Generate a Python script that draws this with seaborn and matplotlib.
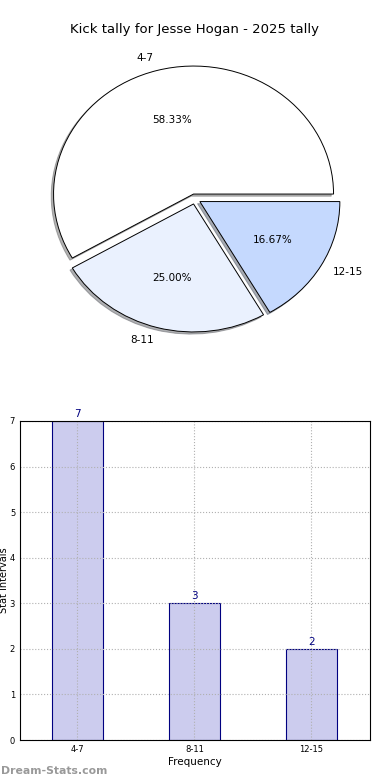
import matplotlib
matplotlib.use("Agg")
import matplotlib.pyplot as plt
import seaborn as sns
import pandas as pd

categories = ["4-7", "8-11", "12-15"]
counts = [7, 3, 2]
pie_colors = ["#ffffff", "#eaf1fe", "#c5d9fe"]
title = "Kick tally for Jesse Hogan - 2025 tally"
yticks = [0, 1, 2, 3, 4, 5, 6, 7]

sns.set_theme(style="white")
plt.rcParams['font.family'] = ['DejaVu Sans']
plt.rcParams['text.color'] = 'black'
plt.rcParams['axes.labelcolor'] = 'black'

fig = plt.figure(figsize=(3.9, 7.8), dpi=100)

# Pie
axp = fig.add_axes([20/390, (780-359)/780, 350/390, 320/780])
wedges, texts, autotexts = axp.pie(
    counts, labels=categories, colors=pie_colors, autopct="%.2f%%",
    startangle=0, counterclock=True, explode=[0.04]*3,
    shadow={"ox": -0.012, "oy": -0.012, "shade": 0.6},
    labeldistance=1.1, pctdistance=0.6,
    wedgeprops=dict(edgecolor="black", linewidth=0.7),
    textprops=dict(fontsize=7.5, color="black"))
axp.set_aspect("auto")
axp.set_xlim(-1.25, 1.25)
axp.set_ylim(-1.25, 1.25)
axp.axis("off")
fig.text(0.5, 1 - 30/780, title, ha="center", va="center", fontsize=9.5, color="black")

# Bar
axb = fig.add_axes([20/390, 40/780, 350/390, 319/780])
df = pd.DataFrame({"cat": categories, "val": counts})
sns.barplot(data=df, x="cat", y="val", ax=axb, color="#ccccee", width=0.44,
            edgecolor="#000080", linewidth=0.8, saturation=1)
axb.set_xlim(-0.49, 2.5)
axb.set_ylim(0, 7)
axb.set_yticks(yticks)
axb.grid(True, linestyle=":", color="#b0b0b0", linewidth=0.8)
axb.set_axisbelow(False)
for s in axb.spines.values():
    s.set_color("black")
    s.set_linewidth(0.8)
    s.set_zorder(5)
axb.tick_params(axis="both", labelsize=6, length=2, direction="in", colors="black")
axb.set_xlabel("Frequency", fontsize=7.5, labelpad=2)
axb.set_ylabel("Stat Intervals", fontsize=7)
axb.yaxis.set_label_coords(-0.031, 0.5)
for i, v in enumerate(counts):
    axb.text(i, v + 0.05, str(v), ha="center", va="bottom", fontsize=7.5, color="#000080")

fig.text(0.002, 1 - 771/780, "Dream-Stats.com", ha="left", va="center",
         fontsize=7.8, color="#999999", fontweight="bold")

fig.savefig("out.png", dpi=100)
